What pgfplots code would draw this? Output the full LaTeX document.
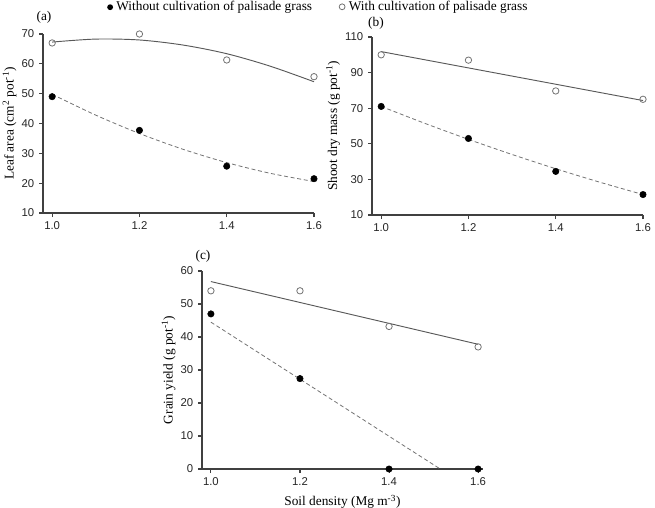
\documentclass[border=0pt]{standalone}
\usepackage{fontspec}
\setmainfont{Liberation Serif}
\setsansfont{Liberation Sans}
\usepackage{pgfplots}
\pgfplotsset{compat=1.18}

\pgfplotsset{
  panel/.style={
    scale only axis,
    axis lines=left,
    axis line style={-, line width=0.9pt, black!75},
    tick align=outside,
    major tick length=3pt,
    tick style={line width=0.8pt, black!75},
    tick label style={font=\fontsize{8.5}{10}\sffamily, text=black!85},
    /pgf/number format/assume math mode=true,
    xtick={1.0,1.2,1.4,1.6},
    x tick label style={/pgf/number format/.cd, fixed, fixed zerofill, precision=1},
    label style={font=\fontsize{10}{12}\selectfont},
    ylabel style={yshift=-3pt},
    clip=false,
    anchor=south west,
  },
  withpg/.style={only marks, mark=o, mark size=2.4pt,
    mark options={draw=black!55, line width=0.6pt, fill=white}},
  withoutpg/.style={only marks, mark=*, mark size=2.4pt,
    mark options={fill=black, draw=black}},
  fitsolid/.style={no marks, smooth, line width=0.7pt, black!65},
  fitdash/.style={no marks, smooth, line width=0.6pt, black!55,
    dash pattern=on 3pt off 2pt},
}

\begin{document}
\begin{tikzpicture}
\path[use as bounding box] (0,0) rectangle (491.25pt,-380.25pt);

% legend line
\node[anchor=base, font=\fontsize{10}{12}\selectfont] at (238pt,-7.6pt)
  {\tikz\fill (0,0) circle (2.2pt);\ Without cultivation of palisade grass\qquad
   \tikz\draw[black!55, line width=0.6pt] (0,0) circle (2.2pt);\ With cultivation of palisade grass};

\node[font=\fontsize{10}{12}\selectfont] at (33pt,-13pt) {(a)};
\node[font=\fontsize{10}{12}\selectfont] at (282pt,-17.5pt) {(b)};
\node[font=\fontsize{10}{12}\selectfont] at (152.25pt,-192pt) {(c)};

% (a) leaf area
\begin{axis}[panel, at={(32.25pt,-159.75pt)}, width=203.25pt, height=134.25pt,
  xmin=0.979, xmax=1.6, ymin=10, ymax=70, ytick={10,20,...,70},
  ylabel={Leaf area (cm\textsuperscript{2} pot\textsuperscript{-1})}]
  \addplot[fitsolid] coordinates {(1.0,67.3) (1.1,68.3) (1.2,68.0) (1.3,66.3) (1.4,63.4) (1.5,59.2) (1.6,54.0)};
  \addplot[fitdash] coordinates {(1.0,49.8) (1.1,42.8) (1.2,36.65) (1.3,31.35) (1.4,26.9) (1.5,23.3) (1.6,20.55)};
  \addplot[withpg] coordinates {(1.0,67.0) (1.2,70.0) (1.4,61.3) (1.6,55.7)};
  \addplot[withoutpg] coordinates {(1.0,49.0) (1.2,37.7) (1.4,25.7) (1.6,21.5)};
\end{axis}

% (b) shoot dry mass
\begin{axis}[panel, at={(279pt,-161.25pt)}, width=203.25pt, height=133.5pt,
  xmin=0.979, xmax=1.6, ymin=10, ymax=110, ytick={10,30,...,110},
  ylabel={Shoot dry mass (g pot\textsuperscript{-1})}]
  \addplot[fitsolid] coordinates {(1.0,101.8) (1.6,74.3)};
  \addplot[fitdash] coordinates {(1.0,71.0) (1.1,61.5) (1.2,52.5) (1.3,44.0) (1.4,36.0) (1.5,28.5) (1.6,21.5)};
  \addplot[withpg] coordinates {(1.0,100.0) (1.2,97.0) (1.4,79.7) (1.6,75.0)};
  \addplot[withoutpg] coordinates {(1.0,71.0) (1.2,53.0) (1.4,34.5) (1.6,21.5)};
\end{axis}

% (c) grain yield
\begin{axis}[panel, at={(151.5pt,-351.75pt)}, width=210.75pt, height=148.5pt,
  xmin=0.98, xmax=1.611, ymin=0, ymax=60, ytick={0,10,...,60},
  ylabel={Grain yield (g pot\textsuperscript{-1})},
  xlabel={Soil density (Mg m\textsuperscript{-3})}]
  \addplot[fitsolid] coordinates {(1.0,56.8) (1.6,37.8)};
  \addplot[fitdash] coordinates {(1.0,44.5) (1.515,0)};
  \addplot[withpg] coordinates {(1.0,54.0) (1.2,54.0) (1.4,43.2) (1.6,37.0)};
  \addplot[withoutpg] coordinates {(1.0,47.0) (1.2,27.4) (1.4,0) (1.6,0)};
\end{axis}
\end{tikzpicture}
\end{document}
